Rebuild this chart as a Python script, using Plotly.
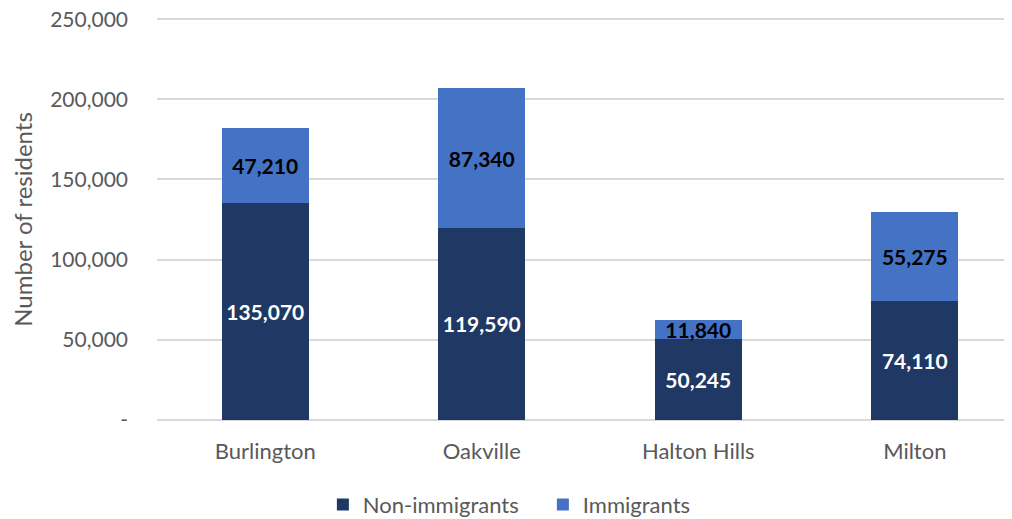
import plotly.graph_objects as go

municipalities = ["Burlington", "Oakville", "Halton Hills", "Milton"]
non_immigrants = [135070, 119590, 50245, 74110]
immigrants = [47210, 87340, 11840, 55275]
y_ticks = [0, 50000, 100000, 150000, 200000, 250000]
y_tick_labels = ["-", "50,000", "100,000", "150,000", "200,000", "250,000"]

FONT = "Lato, Open Sans, sans-serif"
GRAY = "#595959"

fig = go.Figure()
fig.add_trace(go.Bar(
    name="Non-immigrants", x=municipalities, y=non_immigrants,
    marker=dict(color="#203864", line=dict(width=0)),
    text=[f"{v:,}" for v in non_immigrants],
    textposition="inside", insidetextanchor="middle", textangle=0,
    constraintext="none",
    textfont=dict(family=FONT, size=21, color="white", weight="bold"),
    width=0.4,
))
fig.add_trace(go.Bar(
    name="Immigrants", x=municipalities, y=immigrants,
    marker=dict(color="#4472C4", line=dict(width=0)),
    text=[f"{v:,}" for v in immigrants],
    textposition="inside", insidetextanchor="middle", textangle=0,
    constraintext="none",
    textfont=dict(family=FONT, size=21, color="black", weight="bold"),
    width=0.4,
))

fig.update_layout(
    barmode="stack",
    width=1004, height=511,
    margin=dict(l=149, r=0, t=8, b=96, autoexpand=False),
    plot_bgcolor="white", paper_bgcolor="white",
    font=dict(family=FONT, size=21, color=GRAY),
    legend=dict(orientation="h", x=0.194, xanchor="left", xref="paper",
                y=-0.2008, yanchor="middle", font=dict(size=22, color=GRAY),
                itemwidth=30, entrywidth=175, entrywidthmode="pixels",
                traceorder="normal"),
    xaxis=dict(range=[-0.5, 3.449], showgrid=False, zeroline=False,
               showline=False, ticks="", ticklabelstandoff=13, automargin=False,
               tickfont=dict(size=22, color=GRAY)),
    yaxis=dict(range=[-2000, 252000], tickvals=y_ticks, ticktext=y_tick_labels,
               showgrid=True, gridcolor="#D9D9D9", gridwidth=1.5,
               zeroline=False, showline=False, ticks="", automargin=False,
               ticklabelstandoff=28, ticklabeloverflow="allow",
               tickfont=dict(size=21, color=GRAY),
               title=dict(text="Number of residents", standoff=15,
                          font=dict(size=24, color=GRAY))),
)

fig.write_html("out.html")
